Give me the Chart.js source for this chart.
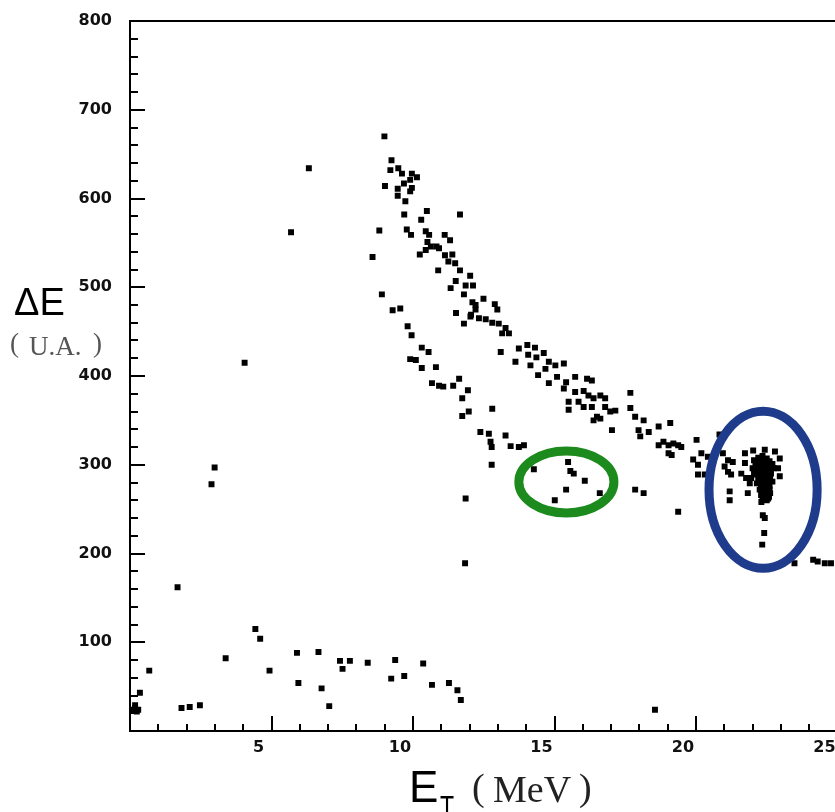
<!DOCTYPE html>
<html><head><meta charset="utf-8">
<script src="https://cdn.jsdelivr.net/npm/chart.js@4.4.0/dist/chart.umd.min.js"></script>
<style>
html,body{margin:0;padding:0;background:#fff;overflow:hidden;width:835px;height:812px;}
#wrap{position:absolute;left:0;top:0;width:870px;height:812px;}
canvas{display:block;}
</style></head><body>
<div id="wrap"><canvas id="c" width="870" height="812" style="width:870px;height:812px"></canvas></div>
<script>
// ---- tick labels ----
const xTickLabels = [5, 10, 15, 20, 25];
const yTickLabels = [100, 200, 300, 400, 500, 600, 700, 800];

// ---- data: [E_T (MeV), ΔE (U.A.)] ----
const upperBand = [
 [8.99,670],[9.24,643],[9.20,632],[9.48,634],[9.61,628],[9.96,628],[10.14,624],[9.90,621],[9.01,614],[9.68,617],
 [9.46,611],[9.96,612],[9.90,608],[9.46,603],[9.73,597],[10.49,586],[11.66,582],[9.69,582],[10.29,576],[9.78,565],
 [9.93,559],[10.45,563],[10.57,559],[11.12,559],[11.31,553],[10.51,551],[10.63,546],[10.83,546],[10.45,542],[10.92,544],
 [10.24,537],[11.13,536],[11.39,537],[11.25,529],[11.49,527],[10.89,519],[11.66,519],[12.02,513],[11.51,507],[11.86,502],
 [12.12,502],[11.33,499],[11.80,492],[12.49,487],[12.10,483],[12.21,480],[12.89,481],[12.98,475],[12.05,469],[11.52,471],
 [12.21,475],[12.03,467],[12.33,465],[12.57,464],[11.80,459],[12.80,460],[13.03,459],[13.27,454],[13.39,448],[13.15,448],
 [13.10,427],[13.74,431],[14.04,435],[14.31,432],[14.62,426],[14.07,424],[14.36,421],[13.62,416],[14.15,412],[14.68,408],
 [14.80,416],[15.03,412],[15.33,414],[14.42,401],[15.09,399],[14.80,392],[15.41,393],[15.73,399],[15.33,386],[16.15,397],
 [16.32,395],[15.73,382],[16.03,383],[16.20,378],[16.38,375],[16.62,378],[16.79,375],[15.50,371],[15.85,371],[16.03,365],
 [15.50,362],[16.32,365],[16.79,365],[16.97,360],[17.15,361],[16.50,354],[16.38,350],[16.62,352],[17.68,381],[17.68,364],
 [17.85,354],[18.15,350],[17.97,339],[18.33,337],[18.03,332],[17.03,339],[18.68,343],[19.09,347],[18.68,322],[18.85,326],
 [19.03,322],[19.20,324],[19.37,322],[19.48,320],[19.03,313],[19.14,311],[20.02,328],[20.19,313],[20.42,309],[20.07,300],
 [20.07,289],[19.90,306],[20.31,289],[20.83,334],[20.95,313],[21.13,305],[21.30,303],[21.01,298],[21.13,292],[21.24,289],
 [21.60,290],[21.77,285],[21.73,313],[21.73,302],[21.19,270],[21.19,260]
];
const lowerBand = [
 [8.81,564],[8.57,534],[8.90,492],[9.28,474],[9.55,476],[9.81,456],[9.95,446],[10.31,432],[10.55,427],[9.90,419],
 [10.10,418],[10.31,409],[10.81,410],[10.67,392],[10.92,389],[11.07,388],[11.42,389],[11.63,397],[11.94,384],[11.74,375],
 [11.97,360],[11.74,355],[12.80,363],[12.38,337],[12.68,335],[12.74,326],[12.78,320],[13.27,333],[13.45,321],[13.74,320],
 [13.92,322],[12.78,300],[11.86,262],[11.84,189],[14.27,295],[17.85,272],[18.15,268],[19.37,247]
];
const greenGroup = [
 [15.48,303],[15.56,293],[15.68,290],[16.07,282],[15.41,272],[16.60,268],[15.01,260]
];
const blueCluster = [
 [22.02,316],[22.43,317],[22.79,315],[22.96,307],[22.90,296],[22.96,287],[21.90,279],[21.83,268],[22.31,258],[22.36,243],
 [22.43,240],[22.41,223],[22.34,210],
 [22.05,305],[22.20,308],[22.35,310],[22.50,307],[22.60,304],[22.10,300],[22.25,302],[22.40,303],[22.55,299],[22.70,301],
 [22.00,296],[22.15,294],[22.30,297],[22.45,295],[22.60,292],[22.75,296],[22.10,289],[22.25,290],[22.40,288],[22.55,287],
 [22.65,290],[21.95,285],[22.20,284],[22.35,283],[22.50,282],[22.62,285],[22.15,279],[22.30,277],[22.45,278],[22.60,276],
 [22.25,272],[22.40,271],[22.55,270],[22.30,266],[22.45,265],[22.58,264],[22.35,261],[22.50,260],[22.42,268],[22.38,293],
 [22.48,300],[22.20,298],[22.70,281],[22.05,291],
 [22.28,306],[22.44,306],[22.33,300],[22.52,294],[22.27,293],[22.36,289],[22.47,291],[22.32,286],[22.44,284],[22.57,281],
 [22.27,281],[22.38,279],[22.52,276],[22.36,274],[22.48,273],[22.60,272],[22.33,269],[22.52,267],[22.40,264],[22.55,262],
 [22.62,268],[22.43,261],[22.22,287],[22.66,297]
];
const lowEnergy = [
 [0.18,26],[0.24,22],[0.12,24],[0.29,24],[0.18,29],[0.35,43],[0.68,68],[1.82,26],[2.11,27],[2.47,29],
 [3.38,82],[4.43,115],[4.60,104],[4.93,68],[5.90,88],[5.95,54],[6.66,89],[6.77,48],[7.04,28],[7.42,79],
 [7.51,70],[7.77,79],[8.40,77],[9.23,59],[9.37,80],[9.69,62],[10.36,76],[10.67,52],[11.27,54],[11.57,46],
 [11.69,35],[18.55,24]
];
const isolated = [
 [1.68,162],[2.88,278],[2.99,297],[4.05,415],[5.69,562],[6.32,634],[23.48,189],[24.14,193],[24.30,191],[24.55,189],[24.77,189]
];

// ---- annotation ellipses (data units) ----
const greenEllipse = {cx:15.42, cy:280.6, rx:1.68, ry:34.9};
const blueEllipse  = {cx:22.37, cy:271.8, rx:1.91, ry:88.5};

const toPts = arr => arr.map(p => ({x:p[0], y:p[1]}));
const ds = (label, arr) => ({
  label, data: toPts(arr), pointStyle:'rect', pointRadius:4.2, pointBackgroundColor:'#000',
  pointBorderWidth:0, showLine:false
});

const decor = {
  id:'decor',
  afterDraw(chart){
    const {ctx, chartArea:a, scales:{x, y}} = chart;
    ctx.save();
    ctx.strokeStyle = '#000'; ctx.lineWidth = 2; ctx.lineCap = 'butt';
    ctx.beginPath();
    ctx.moveTo(a.left-1, a.top); ctx.lineTo(a.right, a.top); ctx.lineTo(a.right, a.bottom);
    x.ticks.forEach(t => {
      if (t.value <= 0 || t.value >= x.max) return;
      const px = Math.round(x.getPixelForValue(t.value));
      const len = xTickLabels.includes(t.value) ? 15 : 7;
      ctx.moveTo(px, a.bottom); ctx.lineTo(px, a.bottom - len);
    });
    y.ticks.forEach(t => {
      if (t.value <= 0 || t.value >= y.max) return;
      const py = Math.round(y.getPixelForValue(t.value));
      const len = yTickLabels.includes(t.value) ? 15 : 8;
      ctx.moveTo(a.left, py); ctx.lineTo(a.left + len, py);
    });
    ctx.stroke();

    // ellipses
    const drawE = (e, col) => {
      const cx = x.getPixelForValue(e.cx), cy = y.getPixelForValue(e.cy);
      const rx = Math.abs(x.getPixelForValue(e.cx + e.rx) - cx);
      const ry = Math.abs(y.getPixelForValue(e.cy + e.ry) - cy);
      ctx.beginPath(); ctx.lineWidth = 9; ctx.strokeStyle = col;
      ctx.ellipse(cx, cy, rx, ry, 0, 0, Math.PI*2); ctx.stroke();
    };
    drawE(greenEllipse, '#1c8a1c');
    drawE(blueEllipse, '#1f3c8c');

    // axis titles
    ctx.textBaseline = 'alphabetic'; ctx.textAlign = 'left';
    ctx.fillStyle = '#000';
    ctx.font = '38px "Liberation Sans", Arial, sans-serif';
    ctx.fillText('ΔE', 14, 315);
    ctx.fillStyle = '#555';
    ctx.font = '27px "Liberation Serif", serif';
    ctx.fillText('(', 10, 352);
    ctx.fillText('U.A.', 29, 355);
    ctx.fillText(')', 93, 352);

    ctx.fillStyle = '#000';
    ctx.font = '44px "Liberation Sans", Arial, sans-serif';
    ctx.fillText('E', 409, 802);
    ctx.save();
    ctx.translate(440, 818); ctx.scale(0.72, 1);
    ctx.font = '32px "Liberation Sans", Arial, sans-serif';
    ctx.fillText('T', 0, 0);
    ctx.restore();
    ctx.fillStyle = '#222';
    ctx.font = '38px "Liberation Serif", serif';
    ctx.fillText('(', 472, 800);
    ctx.fillText('MeV', 493, 802);
    ctx.fillText(')', 579, 800);
    ctx.restore();
  }
};

new Chart(document.getElementById('c'), {
  type:'scatter',
  data:{ datasets:[
    ds('upper', upperBand), ds('lower', lowerBand), ds('green', greenGroup),
    ds('blue', blueCluster), ds('low', lowEnergy), ds('isolated', isolated)
  ]},
  options:{
    responsive:false, animation:false, events:[],
    layout:{padding:{top:21, right:2, left:0, bottom:0}},
    plugins:{legend:{display:false}, tooltip:{enabled:false}},
    scales:{
      x:{
        type:'linear', min:0, max:26,
        afterFit(s){ s.height = 81; s.paddingLeft = 0; s.paddingRight = 0; },
        grid:{display:false, drawTicks:false},
        border:{display:true, color:'#000', width:2},
        ticks:{stepSize:1, autoSkip:false, maxRotation:0, padding:7, labelOffset:-13,
          color:'#111', font:{family:'"DejaVu Sans", sans-serif', size:16, weight:'bold'},
          callback:v => xTickLabels.includes(v) ? String(v) : ''}
      },
      y:{
        type:'linear', min:0, max:800,
        afterFit(s){ s.width = 130; s.paddingTop = 0; s.paddingBottom = 0; },
        grid:{display:false, drawTicks:false},
        border:{display:true, color:'#000', width:2},
        ticks:{stepSize:20, autoSkip:false, padding:18,
          color:'#111', font:{family:'"DejaVu Sans", sans-serif', size:16, weight:'bold'},
          callback:v => yTickLabels.includes(v) ? String(v) : ''}
      }
    }
  },
  plugins:[decor]
});
</script>
</body></html>
